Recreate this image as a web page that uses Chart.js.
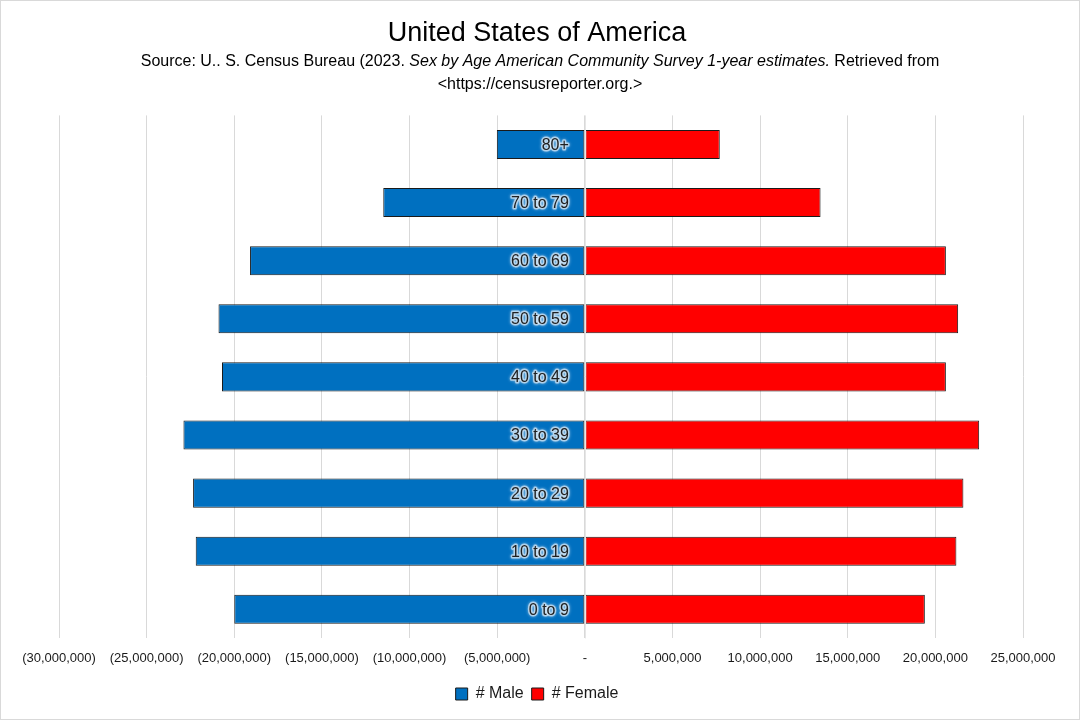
<!DOCTYPE html>
<html>
<head>
<meta charset="utf-8">
<script src="https://cdn.jsdelivr.net/npm/chart.js@4.4.1/dist/chart.umd.min.js"></script>
<style>
  html, body { margin: 0; padding: 0; background: #fff; }
  #wrap { width: 1080px; height: 720px; position: relative; }
</style>
</head>
<body>
<div id="wrap"><canvas id="pyramid" width="1080" height="720"></canvas></div>
<script>
// Age groups, top of the pyramid first
const ageGroups = ['80+', '70 to 79', '60 to 69', '50 to 59', '40 to 49', '30 to 39', '20 to 29', '10 to 19', '0 to 9'];

// Population counts
const maleCounts = [5020000, 11500000, 19100000, 20900000, 20700000, 22900000, 22350000, 22200000, 20000000];
const femaleCounts = [7700000, 13450000, 20600000, 21300000, 20600000, 22500000, 21600000, 21200000, 19400000];

// x axis range and step
const axisMin = -30000000;
const axisMax = 25000000;
const axisStep = 5000000;

const chartTitle = 'United States of America';
const subtitleParts = [
    { text: 'Source: U.. S. Census Bureau (2023. ', italic: false },
    { text: 'Sex by Age American Community Survey 1-year estimates.', italic: true },
    { text: ' Retrieved from', italic: false }
];
const subtitleLine2 = '<https://censusreporter.org.>';

const FONT = '"Liberation Sans", Arial, sans-serif';

function fmtTick(value) {
    if (value === 0) return '-';
    const s = Math.abs(value).toLocaleString('en-US');
    return value < 0 ? '(' + s + ')' : s;
}

// Subtitle with an italic middle part, and outer frame
const headerPlugin = {
    id: 'header',
    afterDraw(chart) {
        const ctx = chart.ctx;
        ctx.save();
        ctx.fillStyle = '#000';
        ctx.textBaseline = 'middle';
        const size = 16;
        let total = 0;
        subtitleParts.forEach(p => {
            ctx.font = (p.italic ? 'italic ' : '') + size + 'px ' + FONT;
            p.w = ctx.measureText(p.text).width;
            total += p.w;
        });
        let x = chart.width / 2 - total / 2;
        ctx.textAlign = 'left';
        subtitleParts.forEach(p => {
            ctx.font = (p.italic ? 'italic ' : '') + size + 'px ' + FONT;
            ctx.fillText(p.text, x, 62);
            x += p.w;
        });
        ctx.font = size + 'px ' + FONT;
        ctx.textAlign = 'center';
        ctx.fillText(subtitleLine2, chart.width / 2, 85);

        ctx.strokeStyle = '#d9d9d9';
        ctx.lineWidth = 1;
        ctx.strokeRect(0.5, 0.5, chart.width - 1, chart.height - 1);
        ctx.restore();
    }
};

// Zero line over the bars and the age labels inside the male bars
const labelPlugin = {
    id: 'ageLabels',
    afterDatasetsDraw(chart) {
        const ctx = chart.ctx;
        const xs = chart.scales.x;
        const ys = chart.scales.y;
        const x0 = xs.getPixelForValue(0);
        ctx.save();
        ctx.strokeStyle = '#e6e6e6';
        ctx.lineWidth = 1;
        ctx.beginPath();
        ctx.moveTo(Math.round(x0) + 0.5, chart.chartArea.top);
        ctx.lineTo(Math.round(x0) + 0.5, chart.chartArea.bottom);
        ctx.stroke();

        ctx.font = '16px ' + FONT;
        ctx.textAlign = 'right';
        ctx.textBaseline = 'middle';
        ctx.lineJoin = 'round';
        ageGroups.forEach((g, i) => {
            const y = ys.getPixelForValue(i) + 1;
            const x = x0 - 16;
            ctx.shadowColor = 'rgba(255,255,255,0.9)';
            ctx.shadowBlur = 3;
            ctx.strokeStyle = 'rgba(230,240,250,0.6)';
            ctx.lineWidth = 3;
            ctx.strokeText(g, x, y);
            ctx.shadowBlur = 0;
            ctx.fillStyle = '#202020';
            ctx.fillText(g, x, y);
        });
        ctx.restore();
    }
};

new Chart(document.getElementById('pyramid'), {
    type: 'bar',
    data: {
        labels: ageGroups,
        datasets: [
            {
                label: '# Male',
                data: maleCounts.map(v => -v),
                backgroundColor: '#0070C0',
                borderColor: '#1a1a1a',
                borderWidth: 1,
                borderSkipped: false
            },
            {
                label: '# Female',
                data: femaleCounts,
                backgroundColor: '#FF0000',
                borderColor: '#1a1a1a',
                borderWidth: 1,
                borderSkipped: false
            }
        ]
    },
    options: {
        indexAxis: 'y',
        responsive: false,
        animation: false,
        devicePixelRatio: 1,
        categoryPercentage: 1,
        barPercentage: 0.5,
        layout: {
            padding: { left: 51, right: 57, bottom: 8 }
        },
        scales: {
            x: {
                stacked: true,
                min: axisMin,
                max: axisMax,
                ticks: {
                    stepSize: axisStep,
                    color: '#1a1a1a',
                    font: { family: FONT, size: 13 },
                    padding: 12,
                    maxRotation: 0,
                    autoSkip: false,
                    callback: fmtTick
                },
                grid: { color: '#d9d9d9', drawTicks: false },
                border: { display: false }
            },
            y: {
                stacked: true,
                ticks: { display: false },
                grid: { display: false },
                border: { display: false }
            }
        },
        plugins: {
            title: {
                display: true,
                text: chartTitle,
                color: '#000',
                font: { family: FONT, size: 27, weight: 'normal' },
                padding: { top: 17, bottom: 66 }
            },
            legend: {
                position: 'bottom',
                labels: {
                    color: '#1a1a1a',
                    font: { family: FONT, size: 16 },
                    boxWidth: 12,
                    boxHeight: 12,
                    padding: 8
                }
            },
            tooltip: { enabled: false }
        }
    },
    plugins: [headerPlugin, labelPlugin]
});
</script>
</body>
</html>
